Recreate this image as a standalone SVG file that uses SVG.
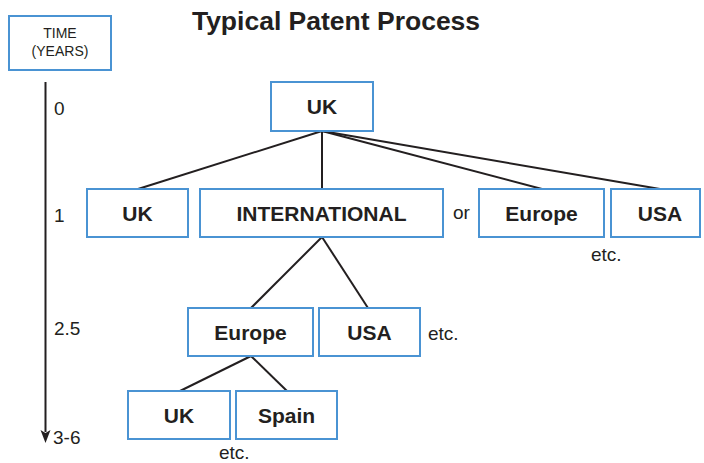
<svg xmlns="http://www.w3.org/2000/svg" width="704" height="463" viewBox="0 0 704 463">
  <defs>
    <style>
      .box { fill: #ffffff; stroke: #4a93d3; stroke-width: 2; }
      .lbl { font-family: "Liberation Sans", Arial, sans-serif; font-weight: bold; font-size: 21px; fill: #231f20; text-anchor: middle; }
      .note { font-family: "Liberation Sans", Arial, sans-serif; font-size: 19px; fill: #231f20; }
      .small { font-family: "Liberation Sans", Arial, sans-serif; font-size: 14px; fill: #231f20; text-anchor: middle; }
      .link { stroke: #231f20; stroke-width: 2; fill: none; }
    </style>
  </defs>
  <rect width="704" height="463" fill="#ffffff"/>

  <!-- Title -->
  <text x="336" y="30" font-family="'Liberation Sans', Arial, sans-serif" font-weight="bold" font-size="26.5" fill="#231f20" text-anchor="middle">Typical Patent Process</text>

  <!-- Time axis -->
  <g id="time-axis">
    <rect class="box" x="9" y="16" width="102" height="54"/>
    <text class="small" x="60" y="38">TIME</text>
    <text class="small" x="60" y="56">(YEARS)</text>
    <line x1="45.5" y1="82" x2="45.5" y2="432" stroke="#231f20" stroke-width="2"/>
    <path d="M40.5,430 L45.5,443 L50.5,430 L45.5,433 Z" fill="#231f20"/>
    <text class="note" x="54" y="115">0</text>
    <text class="note" x="54" y="222">1</text>
    <text class="note" x="54" y="335">2.5</text>
    <text class="note" x="53" y="444">3-6</text>
  </g>

  <!-- Connectors -->
  <g id="connectors">
    <line class="link" x1="322" y1="131" x2="138" y2="189"/>
    <line class="link" x1="322" y1="131" x2="322" y2="189"/>
    <line class="link" x1="322" y1="131" x2="542" y2="189"/>
    <line class="link" x1="322" y1="131" x2="660" y2="189"/>
    <line class="link" x1="322" y1="237" x2="251" y2="308"/>
    <line class="link" x1="322" y1="237" x2="368" y2="308"/>
    <line class="link" x1="251" y1="356" x2="180" y2="391"/>
    <line class="link" x1="251" y1="356" x2="287" y2="391"/>
  </g>

  <!-- Nodes -->
  <g id="uk-root">
    <rect class="box" x="271" y="82" width="102" height="49"/>
    <text class="lbl" x="322" y="114">UK</text>
  </g>
  <g id="uk-national">
    <rect class="box" x="87" y="189" width="101" height="48"/>
    <text class="lbl" x="137.5" y="221">UK</text>
  </g>
  <g id="international">
    <rect class="box" x="200" y="189" width="243" height="48"/>
    <text class="lbl" x="321.5" y="221">INTERNATIONAL</text>
  </g>
  <text class="note" x="453" y="219">or</text>
  <g id="europe-direct">
    <rect class="box" x="479" y="189" width="125" height="48"/>
    <text class="lbl" x="541.5" y="221">Europe</text>
  </g>
  <g id="usa-direct">
    <rect class="box" x="611" y="189" width="89" height="48"/>
    <text class="lbl" x="660" y="221">USA</text>
  </g>
  <text class="note" x="591" y="261">etc.</text>

  <g id="europe-regional">
    <rect class="box" x="188" y="308" width="125" height="48"/>
    <text class="lbl" x="250.5" y="340">Europe</text>
  </g>
  <g id="usa-regional">
    <rect class="box" x="319" y="308" width="101" height="48"/>
    <text class="lbl" x="369.5" y="340">USA</text>
  </g>
  <text class="note" x="428" y="340">etc.</text>

  <g id="uk-validation">
    <rect class="box" x="128" y="391" width="102" height="48"/>
    <text class="lbl" x="179" y="423">UK</text>
  </g>
  <g id="spain-validation">
    <rect class="box" x="236" y="391" width="101" height="48"/>
    <text class="lbl" x="286.5" y="423">Spain</text>
  </g>
  <text class="note" x="219" y="459">etc.</text>
</svg>
